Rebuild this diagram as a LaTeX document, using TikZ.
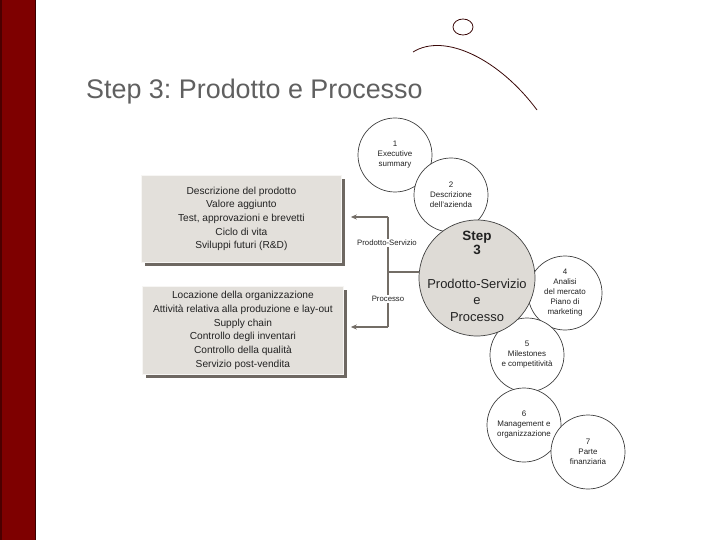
\documentclass[tikz,border=0pt]{standalone}
\usepackage{fontspec}
\setmainfont{Liberation Sans}
\usetikzlibrary{arrows.meta}
\frenchspacing
\definecolor{barred}{HTML}{7E0000}
\definecolor{boxfill}{HTML}{E3E0DB}
\definecolor{bigfill}{HTML}{DEDBD6}
\definecolor{shade}{HTML}{6E6862}
\definecolor{titlegray}{HTML}{606060}
\definecolor{linec}{HTML}{736D66}
\definecolor{arcred}{HTML}{3A0808}
\definecolor{txt}{HTML}{222222}
\tikzset{
  infobox/.style={fill=boxfill, draw=white!70!boxfill, line width=0.8bp, align=center, text=txt,
    font=\fontsize{10.2}{13.7}\selectfont, inner sep=0pt, anchor=north west,
    preaction={fill=shade, transform canvas={xshift=4bp,yshift=-4bp}}},
  stepc/.style={circle, draw=black!75, fill=white, line width=0.7bp, minimum size=74bp,
    inner sep=0pt, align=center, text=txt, font=\fontsize{8}{10}\selectfont},
  conn/.style={draw=linec, line width=1.5bp},
  lab/.style={fill=white, inner sep=1bp, text=txt, font=\fontsize{7.8}{9}\selectfont},
  tip/.style={-{Stealth[length=6bp,width=5bp]}}
}
\begin{document}
\begin{tikzpicture}[x=1bp,y=-1bp]
\useasboundingbox (0,0) rectangle (720,540);
% left bar
\fill[barred] (0,0) rectangle (36,540);
\fill[black!55!barred] (34.5,0) rectangle (36,540);
\fill[black!40!barred] (0,0) rectangle (1.5,540);
% title
\node[anchor=base west, inner sep=0pt, text=titlegray, font=\fontsize{27}{30}\selectfont] (title) at (86,99) {Step 3: Prodotto e Processo};
% decoration
\draw[arcred, line width=0.8bp] (463,27) ellipse [x radius=10, y radius=8];
\draw[arcred, line width=0.8bp] (413,52) .. controls (445,32) and (500,60) .. (537,110);
% boxes
\node[infobox, minimum width=200bp, minimum height=87bp] (b1) at (141,175)
  {Descrizione del prodotto\\Valore aggiunto\\Test, approvazioni e brevetti\\Ciclo di vita\\Sviluppi futuri (R\&D)};
\node[infobox, minimum width=201bp, minimum height=88bp] (b2) at (142,286)
  {Locazione della organizzazione\\Attività relativa alla produzione e lay-out\\Supply chain\\Controllo degli inventari\\Controllo della qualità\\Servizio post-vendita};
% circles
\node[stepc] (c1) at (395,155) {1\\Executive\\summary};
\node[stepc] (c2) at (451,195) {2\\Descrizione\\dell'azienda};
\node[stepc] (c4) at (565,293) {4\\Analisi\\del mercato\\Piano di\\marketing};
\node[stepc] (c5) at (527,355) {5\\Milestones\\e competitività};
\node[stepc] (c6) at (524,425) {6\\Management e\\organizzazione};
\node[stepc] (c7) at (588,452) {7\\Parte\\finanziaria};
\node[circle, draw=black!75, fill=bigfill, line width=0.7bp, minimum size=116bp, inner sep=0pt] (c3) at (477,278) {};
\node[align=center, text=txt, font=\bfseries\fontsize{13.5}{14.5}\selectfont, inner sep=0pt] (c3a) at (477,243) {Step\\3};
\node[align=center, text=txt, font=\fontsize{13}{16.5}\selectfont, inner sep=0pt] (c3b) at (477,300) {Prodotto-Servizio\\e\\Processo};
% connectors
\coordinate (j) at (388,272);
\coordinate (jt) at (388,217);
\coordinate (jb) at (388,327);
\draw[conn] (jt) -- (jb);
\draw[conn] (j) -- (j -| c3.west);
\draw[conn, tip] (jt) -- ([xshift=9bp]b1.east |- jt);
\draw[conn, tip] (jb) -- ([xshift=7bp]b2.east |- jb);
\node[lab] (l1) at (387,243) {Prodotto-Servizio};
\node[lab] (l2) at (388,299) {Processo};
\end{tikzpicture}
\end{document}
